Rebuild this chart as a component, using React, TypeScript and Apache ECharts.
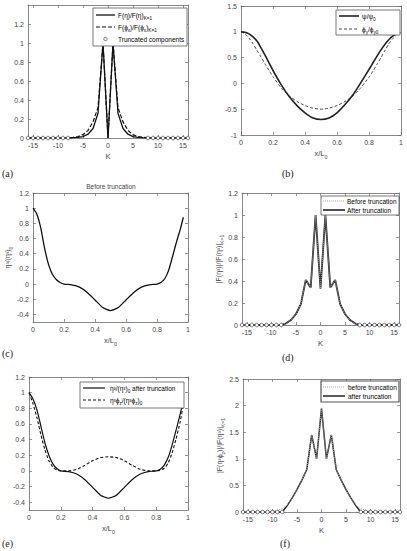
import React, { useEffect, useRef } from 'react';
import * as echarts from 'echarts';

// ---------- data ----------
const kValues = [-16, -15, -14, -13, -12, -11, -10, -9, -8, -7, -6, -5, -4, -3, -2, -1, 0, 1, 2, 3, 4, 5, 6, 7, 8, 9, 10, 11, 12, 13, 14, 15, 16];
const truncK = [-16, -15, -14, -13, -12, -11, -10, -9, -8, 8, 9, 10, 11, 12, 13, 14, 15, 16];
const truncVal = [0, 0, 0, 0, 0, 0, 0, 0, 0, 0, 0, 0, 0, 0, 0, 0, 0, 0];

// (a)
const aEta = [0, 0, 0, 0, 0, 0, 0, 0, 0.001, 0.003, 0.006, 0.015, 0.04, 0.1, 0.26, 1, 0, 1, 0.26, 0.1, 0.04, 0.015, 0.006, 0.003, 0.001, 0, 0, 0, 0, 0, 0, 0, 0];
const aPhi = [0, 0, 0, 0, 0, 0, 0, 0, 0.003, 0.007, 0.015, 0.035, 0.08, 0.17, 0.32, 1, 0, 1, 0.32, 0.17, 0.08, 0.035, 0.015, 0.007, 0.003, 0, 0, 0, 0, 0, 0, 0, 0];
// (d)
const dBefore = [0, 0, 0, 0, 0, 0, 0.001, 0.003, 0.007, 0.015, 0.045, 0.1, 0.19, 0.41, 0.34, 1, 0.33, 1, 0.34, 0.41, 0.19, 0.1, 0.045, 0.015, 0.007, 0.003, 0.001, 0, 0, 0, 0, 0, 0];
const dAfter = [0, 0, 0, 0, 0, 0, 0, 0, 0, 0.015, 0.045, 0.1, 0.19, 0.41, 0.34, 1, 0.33, 1, 0.34, 0.41, 0.19, 0.1, 0.045, 0.015, 0, 0, 0, 0, 0, 0, 0, 0, 0];
// (f)
const fBefore = [0, 0, 0, 0, 0, 0.005, 0.015, 0.035, 0.06, 0.13, 0.26, 0.42, 0.6, 0.8, 1.45, 1.0, 1.95, 1.0, 1.45, 0.8, 0.6, 0.42, 0.26, 0.13, 0.06, 0.035, 0.015, 0.005, 0, 0, 0, 0, 0];
const fAfter = [0, 0, 0, 0, 0, 0, 0, 0, 0, 0.12, 0.26, 0.42, 0.6, 0.8, 1.45, 1.0, 1.95, 1.0, 1.45, 0.8, 0.6, 0.42, 0.26, 0.12, 0, 0, 0, 0, 0, 0, 0, 0, 0];

// x/L0 abscissa for (b), (c), (e)
const xs = [0, 0.025, 0.05, 0.075, 0.1, 0.125, 0.15, 0.175, 0.2, 0.25, 0.3, 0.35, 0.4, 0.45, 0.5, 0.55, 0.6, 0.65, 0.7, 0.75, 0.8, 0.825, 0.85, 0.875, 0.9, 0.925, 0.95, 0.97];
const bPsi = [1.0, 0.99, 0.96, 0.9, 0.82, 0.69, 0.55, 0.4, 0.25, -0.02, -0.25, -0.43, -0.57, -0.67, -0.7, -0.67, -0.57, -0.41, -0.22, 0.02, 0.27, 0.4, 0.53, 0.65, 0.76, 0.85, 0.92, 0.95];
const bPhi = [1.0, 0.96, 0.88, 0.77, 0.64, 0.51, 0.38, 0.25, 0.13, -0.08, -0.24, -0.35, -0.43, -0.48, -0.5, -0.48, -0.43, -0.35, -0.24, -0.08, 0.12, 0.24, 0.37, 0.5, 0.64, 0.77, 0.87, 0.93];
const cEta = [1.0, 0.92, 0.74, 0.47, 0.26, 0.13, 0.06, 0.02, 0.0, -0.01, -0.04, -0.11, -0.21, -0.31, -0.35, -0.31, -0.21, -0.11, -0.04, -0.01, 0.0, 0.02, 0.07, 0.18, 0.36, 0.55, 0.72, 0.88];
const eEta = [1.0, 0.92, 0.78, 0.57, 0.36, 0.2, 0.09, 0.03, 0.0, -0.01, -0.04, -0.11, -0.21, -0.31, -0.35, -0.31, -0.21, -0.11, -0.04, -0.01, 0.0, 0.02, 0.07, 0.17, 0.33, 0.52, 0.72, 0.89];
const ePhi = [1.0, 0.86, 0.68, 0.46, 0.27, 0.13, 0.05, 0.01, 0.0, 0.0, 0.02, 0.07, 0.13, 0.17, 0.18, 0.17, 0.13, 0.07, 0.02, 0.0, 0.0, 0.01, 0.03, 0.1, 0.23, 0.41, 0.62, 0.84];

// tick labels
const kTicks = [-15, -10, -5, 0, 5, 10, 15];
const xTicks = [0, 0.2, 0.4, 0.6, 0.8, 1];
const yTicksA = [0, 0.2, 0.4, 0.6, 0.8, 1, 1.2];
const yTicksB = [-1, -0.5, 0, 0.5, 1, 1.5];
const yTicksC = [-0.4, -0.2, 0, 0.2, 0.4, 0.6, 0.8, 1, 1.2];
const yTicksD = [0, 0.2, 0.4, 0.6, 0.8, 1, 1.2];
const yTicksF = [0, 0.5, 1, 1.5, 2, 2.5];

// ---------- styling ----------
const FONT = '"Liberation Sans", Arial, sans-serif';
const SERIF = '"Liberation Serif", "Times New Roman", serif';
const TXT = '#444';
const AXIS = '#6a6a6a';

function rich(fs: number) {
  const small = Math.round(fs * 0.72 * 10) / 10;
  return {
    n: { fontSize: fs, fontFamily: FONT, color: TXT, lineHeight: fs + 5 },
    sub: { fontSize: small, fontFamily: FONT, color: TXT, lineHeight: small, verticalAlign: 'bottom' },
  };
}

const grids = [
  { left: 28, top: 5, width: 160, height: 133 },
  { left: 241, top: 6, width: 160, height: 129 },
  { left: 33, top: 193, width: 155, height: 129 },
  { left: 242, top: 193, width: 157, height: 132 },
  { left: 29, top: 377, width: 159, height: 133 },
  { left: 243, top: 379, width: 157, height: 133 },
];

const XL = '{n|x/L}{sub|0}';
const xSpecs = [
  { min: -16, max: 16, ticks: kTicks, name: '{n|K}' },
  { min: 0, max: 1, ticks: xTicks, name: XL },
  { min: 0, max: 1, ticks: xTicks, name: XL },
  { min: -16, max: 16, ticks: kTicks, name: '{n|K}' },
  { min: 0, max: 1, ticks: xTicks, name: XL },
  { min: -16, max: 16, ticks: kTicks, name: '{n|K}' },
];
const ySpecs = [
  { min: 0, max: 1.4, ticks: yTicksA, name: '', gap: 0 },
  { min: -1, max: 1.5, ticks: yTicksB, name: '', gap: 0 },
  { min: -0.5, max: 1.2, ticks: yTicksC, name: '{n|η³/(η³)}{sub|0}', gap: 16 },
  { min: 0, max: 1.2, ticks: yTicksD, name: '{n||F(η³)|/|F(η³)|}{sub|K=1}', gap: 12 },
  { min: -0.5, max: 1.2, ticks: yTicksC, name: '', gap: 0 },
  { min: 0, max: 2.5, ticks: yTicksF, name: '{n||F(η³ϕ}{sub|z}{n|)|/|F(η³)|}{sub|K=1}', gap: 14 },
];

const fmt = (v: number) => String(Math.round(v * 10) / 10);

function buildAxes() {
  const xAxis: any[] = [];
  const yAxis: any[] = [];
  const common = (ticks: number[]) => ({
    type: 'value',
    splitLine: { show: false },
    axisLine: { show: true, onZero: false, lineStyle: { color: AXIS, width: 0.8 } },
    axisTick: { show: true, inside: true, length: 3, customValues: ticks, lineStyle: { color: AXIS, width: 0.7 } },
  });
  xSpecs.forEach((s, i) => {
    xAxis.push({
      ...common(s.ticks),
      gridIndex: i, position: 'bottom', min: s.min, max: s.max,
      axisLabel: { show: true, customValues: s.ticks, formatter: fmt, fontSize: 7, fontFamily: FONT, color: TXT, margin: 4 },
      name: s.name, nameLocation: 'middle', nameGap: 12,
      nameTextStyle: { rich: rich(7.5) },
    });
  });
  ySpecs.forEach((s, i) => {
    yAxis.push({
      ...common(s.ticks),
      gridIndex: i, position: 'left', min: s.min, max: s.max,
      axisLabel: { show: true, customValues: s.ticks, formatter: fmt, fontSize: 7, fontFamily: FONT, color: TXT, margin: 4 },
      name: s.name, nameLocation: 'middle', nameGap: s.gap, nameRotate: 90,
      nameTextStyle: { rich: rich(7) },
    });
  });
  xSpecs.forEach((s, i) => {
    xAxis.push({
      ...common(s.ticks),
      gridIndex: i, position: 'top', min: s.min, max: s.max,
      axisLabel: { show: false, customValues: s.ticks },
    });
  });
  ySpecs.forEach((s, i) => {
    yAxis.push({
      ...common(s.ticks),
      gridIndex: i, position: 'right', min: s.min, max: s.max,
      axisLabel: { show: false, customValues: s.ticks },
    });
  });
  return { xAxis, yAxis };
}

const pairs = (x: number[], y: number[]) => x.map((v, i) => [v, y[i]]);

function line(idx: number, data: number[][], color: string, width: number, type: any, smooth = 0) {
  return {
    type: 'line', xAxisIndex: idx, yAxisIndex: idx, data, symbol: 'none', smooth,
    lineStyle: { color, width, type },
    silent: true,
  };
}
function trunc(idx: number) {
  return {
    type: 'scatter', xAxisIndex: idx, yAxisIndex: idx, data: pairs(truncK, truncVal),
    symbol: 'circle', symbolSize: 3.6, clip: false,
    itemStyle: { color: '#ffffff', borderColor: '#333333', borderWidth: 0.7, opacity: 1 },
    silent: true, z: 5,
  };
}

// ---------- graphic helpers (legends, labels) ----------
type LegItem = { y: number; kind: 'solid' | 'dash' | 'dot' | 'circle'; color: string; width: number; dash?: number[]; text: string };
function legend(x: number, y: number, w: number, h: number, lx0: number, lx1: number, tx: number, items: LegItem[], borderW = 0.8) {
  const els: any[] = [
    { type: 'rect', shape: { x, y, width: w, height: h }, style: { fill: '#fff', stroke: '#555', lineWidth: borderW }, z: 10 },
  ];
  items.forEach((it) => {
    if (it.kind === 'circle') {
      els.push({ type: 'circle', shape: { cx: (lx0 + lx1) / 2, cy: it.y, r: 1.7 }, style: { fill: '#fff', stroke: '#333', lineWidth: 0.7 }, z: 11 });
    } else {
      els.push({
        type: 'line', shape: { x1: lx0, y1: it.y, x2: lx1, y2: it.y },
        style: { stroke: it.color, lineWidth: it.width, lineDash: it.dash || null }, z: 11,
      });
    }
    els.push({
      type: 'text', z: 11,
      style: { text: it.text, x: tx, y: it.y, textVerticalAlign: 'middle', verticalAlign: 'middle', textAlign: 'left', align: 'left', rich: rich(6.5) },
    });
  });
  return els;
}
function panelLabel(t: string, x: number, y: number) {
  return { type: 'text', style: { text: t, x, y, fontSize: 10, fontFamily: SERIF, fill: '#222', textVerticalAlign: 'middle', verticalAlign: 'middle' } };
}

export default function App() {
  const ref = useRef<HTMLDivElement>(null);
  useEffect(() => {
    if (!ref.current) return;
    const chart = echarts.init(ref.current, undefined, { renderer: 'svg' });
    const { xAxis, yAxis } = buildAxes();
    const graphic: any[] = [
      ...legend(93, 8, 94, 38, 96, 115, 118, [
        { y: 15, kind: 'solid', color: '#111', width: 1.3, text: '{n|F(η)/F(η)}{sub|K=1}' },
        { y: 27, kind: 'dash', color: '#111', width: 1.2, dash: [4, 2], text: '{n|F(ϕ}{sub|x}{n|)/F(ϕ}{sub|x}{n|)}{sub|K=1}' },
        { y: 39, kind: 'circle', color: '#333', width: 1, text: '{n|Truncated components}' },
      ]),
      ...legend(336, 10, 64, 25, 339, 359, 362, [
        { y: 16, kind: 'solid', color: '#222', width: 1.6, text: '{n|ψ/ψ}{sub|0}' },
        { y: 29, kind: 'dash', color: '#333', width: 0.9, dash: [3, 2], text: '{n|ϕ}{sub|y}{n|/ϕ}{sub|y0}' },
      ]),
      ...legend(321, 196, 78, 19, 323, 345, 347, [
        { y: 201, kind: 'dot', color: '#aaa', width: 1, dash: [1, 1], text: '{n|Before truncation}' },
        { y: 210, kind: 'solid', color: '#222', width: 1.6, text: '{n|After truncation}' },
      ]),
      ...legend(80, 382, 104, 26, 83, 105, 110, [
        { y: 388, kind: 'solid', color: '#111', width: 1.2, text: '{n|η³/(η³)}{sub|0}{n| after truncation}' },
        { y: 400, kind: 'dash', color: '#111', width: 1.1, dash: [3, 2], text: '{n|η³ϕ}{sub|z}{n|/(η³ϕ}{sub|z}{n|)}{sub|0}' },
      ]),
      ...legend(321, 381, 78, 21, 323, 345, 348, [
        { y: 387, kind: 'dot', color: '#aaa', width: 1, dash: [1, 1], text: '{n|before truncation}' },
        { y: 396, kind: 'solid', color: '#222', width: 1.5, text: '{n|after truncation}' },
      ], 1.2),
      { type: 'text', style: { text: 'Before truncation', x: 111, y: 186, fontSize: 6.5, fontFamily: FONT, fill: TXT, textAlign: 'center', align: 'center', textVerticalAlign: 'middle', verticalAlign: 'middle' } },
      panelLabel('(a)', 2, 173),
      panelLabel('(b)', 282, 173),
      panelLabel('(c)', 2, 353),
      panelLabel('(d)', 282, 357),
      panelLabel('(e)', 2, 543),
      panelLabel('(f)', 280, 543),
    ];

    chart.setOption({
      animation: false,
      backgroundColor: '#fff',
      grid: grids.map((g) => ({ ...g, containLabel: false })),
      xAxis,
      yAxis,
      series: [
        line(0, pairs(kValues, aPhi), '#111', 1.2, [4, 2]),
        line(0, pairs(kValues, aEta), '#111', 1.3, 'solid'),
        trunc(0),
        line(1, pairs(xs, bPhi), '#333', 0.9, [3, 2], 0.2),
        line(1, pairs(xs, bPsi), '#222', 1.6, 'solid', 0.2),
        line(2, pairs(xs, cEta), '#111', 1.3, 'solid', 0.2),
        line(3, pairs(kValues, dAfter), '#222', 1.8, 'solid'),
        line(3, pairs(kValues, dBefore), '#aaa', 1, [1, 1]),
        trunc(3),
        line(4, pairs(xs, ePhi), '#111', 1.1, [3, 2], 0.2),
        line(4, pairs(xs, eEta), '#111', 1.2, 'solid', 0.2),
        line(5, pairs(kValues, fAfter), '#222', 1.5, 'solid'),
        line(5, pairs(kValues, fBefore), '#aaa', 1, [1, 1]),
        trunc(5),
      ],
      graphic,
    });
    return () => chart.dispose();
  }, []);
  return <div ref={ref} style={{ position: 'fixed', left: 0, top: 0, width: 407, height: 551, background: '#fff' }} />;
}
